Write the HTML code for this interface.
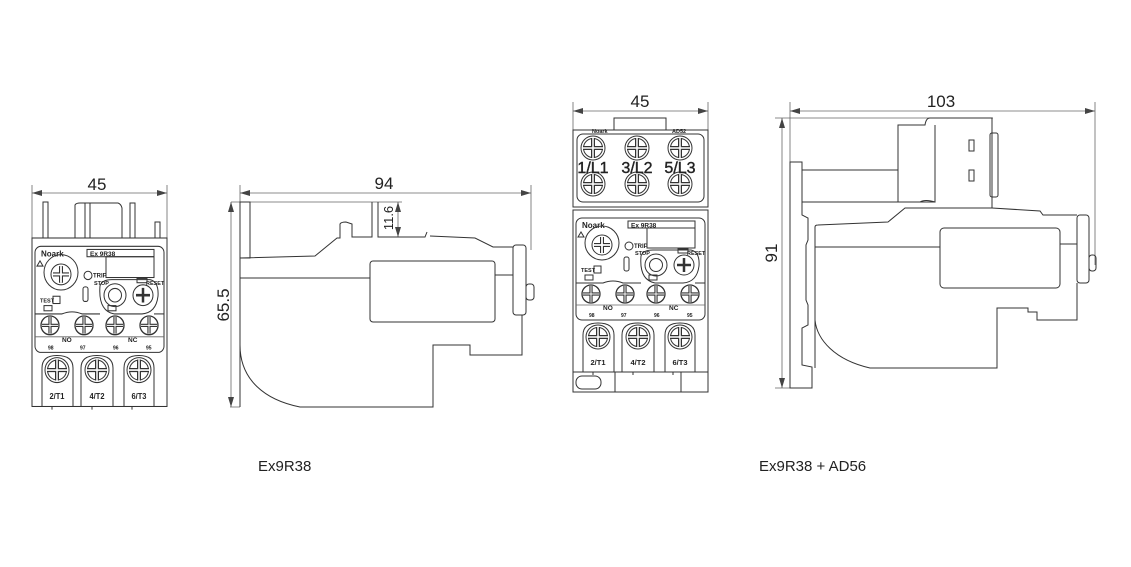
<!DOCTYPE html>
<html><head><meta charset="utf-8"><style>
html,body{margin:0;padding:0;background:#fff;}
svg{display:block;}
text{font-family:"Liberation Sans",sans-serif;fill:#222;}
.s{fill:none;stroke:#333;stroke-width:1;}
.t{fill:none;stroke:#666;stroke-width:0.8;}
.b{font-weight:bold;}
</style></head><body>
<svg width="1131" height="567" viewBox="0 0 1131 567" xmlns="http://www.w3.org/2000/svg">
<defs>
<marker id="a" viewBox="0 0 10 6" refX="10" refY="3" markerWidth="10" markerHeight="6" orient="auto-start-reverse" markerUnits="userSpaceOnUse">
<path d="M0,0 L10,3 L0,6 z" fill="#444"/></marker>
<g id="tc"><circle r="9" style="fill:none;stroke:#333;stroke-width:1.3"/><path d="M-8,0 H8 M0,-8 V8" style="fill:none;stroke:#333;stroke-width:3.2"/><path d="M-8,0 H8 M0,-8 V8" style="fill:none;stroke:#fff;stroke-width:1"/></g>
<g id="tb"><circle r="12" class="s" stroke-width="1.5"/><circle r="9.5" class="s"/><path d="M-10,0 H10 M0,-10 V10" stroke="#333" stroke-width="4"/><path d="M-10,0 H10 M0,-10 V10" stroke="#fff" stroke-width="1.5"/></g>
<g id="relay">
<rect x="0" y="0" width="135" height="162" class="s"/>
<rect x="3" y="8" width="129" height="102" rx="6" class="s"/>
<text x="9" y="18" font-size="8" class="b">Noark</text>
<rect x="55" y="11" width="67" height="7" class="s"/>
<text x="58" y="17.5" font-size="6.5" class="b">Ex 9R38</text>
<circle cx="29" cy="33" r="17" class="s"/>
<circle cx="29" cy="35" r="10" class="s"/>
<path d="M21,35 H37 M29,27 V43" stroke="#333" stroke-width="4"/>
<path d="M21,35 H37 M29,27 V43" stroke="#fff" stroke-width="1.8"/>
<path d="M5,27 L8,22 L11,27 z" class="s"/>
<circle cx="56" cy="36" r="4" class="s"/>
<text x="61" y="38" font-size="6" class="b">TRIP</text>
<rect x="74" y="18" width="48" height="20" class="s"/>
<text x="62" y="45" font-size="5.5" class="b">STOP</text>
<rect x="105" y="39" width="10" height="4" class="s"/>
<text x="114" y="45" font-size="5.5" class="b">RESET</text>
<path d="M68,46 Q70,40 80,40 L118,40 Q127,42 126,56 Q124,72 110,73 L82,73 Q66,70 68,46 z" class="s"/>
<circle cx="83" cy="55" r="11" class="s"/><circle cx="83" cy="55" r="6.5" class="s"/>
<circle cx="111" cy="55" r="10" class="s"/>
<path d="M104,55 H118 M111,48 V62" class="s" style="stroke-width:2.5"/>
<rect x="51" y="47" width="5" height="14" rx="2" class="s"/>
<text x="8" y="62" font-size="5.5" class="b">TEST</text>
<rect x="21" y="56" width="7" height="7" class="s"/>
<rect x="12" y="65" width="8" height="5" class="s"/><rect x="76" y="65" width="8" height="5" class="s"/>
<path d="M3,73 H30 Q40,69 50,73 H68" class="s"/>
<path d="M122,73 H132" class="s"/>
<use href="#tc" x="18" y="84"/><use href="#tc" x="52" y="84"/><use href="#tc" x="83" y="84"/><use href="#tc" x="117" y="84"/>
<path d="M3,95 H132" class="t"/>
<text x="30" y="100" font-size="6.5" class="b">NO</text>
<text x="96" y="100" font-size="6.5" class="b">NC</text>
<text x="16" y="107" font-size="5" class="b">98</text>
<text x="48" y="107" font-size="5" class="b">97</text>
<text x="81" y="107" font-size="5" class="b">96</text>
<text x="114" y="107" font-size="5" class="b">95</text>
<path d="M10,162 V125 Q10,113 25,113 Q41,113 41,125 V162" class="s"/>
<path d="M49,162 V125 Q49,113 65,113 Q81,113 81,125 V162" class="s"/>
<path d="M92,162 V125 Q92,113 107,113 Q122,113 122,125 V162" class="s"/>
<use href="#tb" x="25" y="127"/><use href="#tb" x="65" y="127"/><use href="#tb" x="107" y="127"/>
<text x="25" y="155" font-size="7.5" class="b" text-anchor="middle">2/T1</text>
<text x="65" y="155" font-size="7.5" class="b" text-anchor="middle">4/T2</text>
<text x="107" y="155" font-size="7.5" class="b" text-anchor="middle">6/T3</text>
<path d="M20,162 V165 M60,162 V165 M100,162 V165" class="s"/>
</g>
</defs>

<!-- Drawing 1 -->
<path d="M32,185 V238 M167,185 V238" class="t"/>
<line x1="32" y1="193" x2="167" y2="193" class="t" marker-start="url(#a)" marker-end="url(#a)"/>
<text x="97" y="190" font-size="17" text-anchor="middle">45</text>
<rect x="43" y="202" width="5" height="36" class="s"/>
<rect x="85" y="203" width="5" height="35" class="s"/>
<rect x="130" y="203" width="5" height="35" class="s"/>
<rect x="155" y="222" width="5" height="16" class="s"/>
<path d="M75,238 V205 Q76,203 80,203 H118 Q121,204 122,208 V238" class="s"/>
<g transform="translate(32,238) scale(1,1.04)"><use href="#relay"/></g>

<!-- Drawing 2 -->
<path d="M231,202 H402 M531,185 V250 M240,185 V202 M230,407 H240" class="t"/>
<line x1="240" y1="193" x2="531" y2="193" class="t" marker-start="url(#a)" marker-end="url(#a)"/>
<text x="384" y="189" font-size="17" text-anchor="middle">94</text>
<line x1="231" y1="202" x2="231" y2="407" class="t" marker-start="url(#a)" marker-end="url(#a)"/>
<text transform="translate(229,305) rotate(-90)" font-size="17" text-anchor="middle">65.5</text>
<line x1="398" y1="202" x2="398" y2="237" class="t" marker-start="url(#a)" marker-end="url(#a)"/>
<text transform="translate(393,218) rotate(-90)" font-size="13" text-anchor="middle">11.6</text>
<rect x="240" y="202" width="10" height="56" class="s"/>
<path d="M240,407 V258 L315,256 L337,238 H340 V224 Q341,222 346,222 L352,224 V237 H372 V202 M378,202 V237 H425 L427,232 M430,236 L475,238 L493,247 H513" class="s"/>
<rect x="513" y="245" width="13" height="70" rx="3" class="s"/>
<rect x="526" y="284" width="8" height="16" rx="3" class="s"/>
<path d="M240,278 H370 M495,275 H513" class="s"/>
<rect x="370" y="261" width="125" height="61" rx="3" class="s"/>
<path d="M522,315 V355 H470 V345 H433 V407 H300 C265,400 240,380 240,345" class="s"/>

<!-- Drawing 3 -->
<path d="M573,102 V130 M708,102 V130" class="t"/>
<line x1="573" y1="111" x2="708" y2="111" class="t" marker-start="url(#a)" marker-end="url(#a)"/>
<text x="640" y="107" font-size="17" text-anchor="middle">45</text>
<rect x="614" y="118" width="52" height="12" class="s"/>
<rect x="573" y="130" width="135" height="77" class="s"/>
<rect x="577" y="134" width="127" height="68" rx="6" class="s"/>
<text x="592" y="133" font-size="5.5" class="b">Noark</text>
<text x="672" y="133" font-size="5.5" class="b">AD52</text>
<use href="#tb" x="593" y="148"/><use href="#tb" x="637" y="148"/><use href="#tb" x="680" y="148"/>
<use href="#tb" x="593" y="184"/><use href="#tb" x="637" y="184"/><use href="#tb" x="680" y="184"/>
<g font-size="16" text-anchor="middle" stroke="#222" stroke-width="0.4"><text x="593" y="173">1/L1</text><text x="637" y="173">3/L2</text><text x="680" y="173">5/L3</text></g>
<g transform="translate(573,210)"><use href="#relay"/></g>
<rect x="573" y="372" width="135" height="20" class="s"/>
<rect x="576" y="376" width="25" height="13" rx="6" class="s"/>
<rect x="615" y="372" width="66" height="20" class="s"/>

<!-- Drawing 4 -->
<path d="M790,102 V162 M1095,102 V265 M775,118 H993 M775,388 H790" class="t"/>
<line x1="790" y1="111" x2="1095" y2="111" class="t" marker-start="url(#a)" marker-end="url(#a)"/>
<text x="941" y="107" font-size="17" text-anchor="middle">103</text>
<line x1="782" y1="118" x2="782" y2="388" class="t" marker-start="url(#a)" marker-end="url(#a)"/>
<text transform="translate(777,253) rotate(-90)" font-size="17" text-anchor="middle">91</text>
<path d="M790,388 V162 H802 V215 L808,218 V240 L806,245 V300 L808,305 V325 L802,328 V365 L812,367 V388 z" class="s"/>
<path d="M802,170 H898 M802,202 H935" class="s"/>
<path d="M898,202 V125 H925 Q926,118 930,118 H992 V208" class="s"/>
<path d="M935,125 V202 Q925,199 920,202" class="s"/>
<rect x="990" y="133" width="8" height="64" rx="2" class="s"/>
<rect x="969" y="140" width="5" height="11" class="s"/>
<rect x="969" y="170" width="5" height="11" class="s"/>
<path d="M815,368 V227 Q815,225 818,225 L888,222 L905,208 H992 L1040,211 L1043,215 H1077" class="s"/>
<rect x="1077" y="215" width="12" height="68" rx="3" class="s"/>
<rect x="1089" y="255" width="7" height="16" rx="3" class="s"/>
<path d="M815,247 H940 M1060,244 H1077" class="s"/>
<rect x="940" y="228" width="120" height="60" rx="4" class="s"/>
<path d="M1077,283 V320 H1037 V312 H1028 V308 H997 V368 H870 C835,360 817,340 815,320" class="s"/>
</svg>
<div style="position:absolute;left:0;top:0;width:1131px;height:567px;pointer-events:none;">
<div style="position:absolute;left:258px;top:458px;font:15px 'Liberation Sans',sans-serif;color:#222;">Ex9R38</div>
<div style="position:absolute;left:759px;top:458px;font:15px 'Liberation Sans',sans-serif;color:#222;">Ex9R38 + AD56</div>
</div>
</body></html>
